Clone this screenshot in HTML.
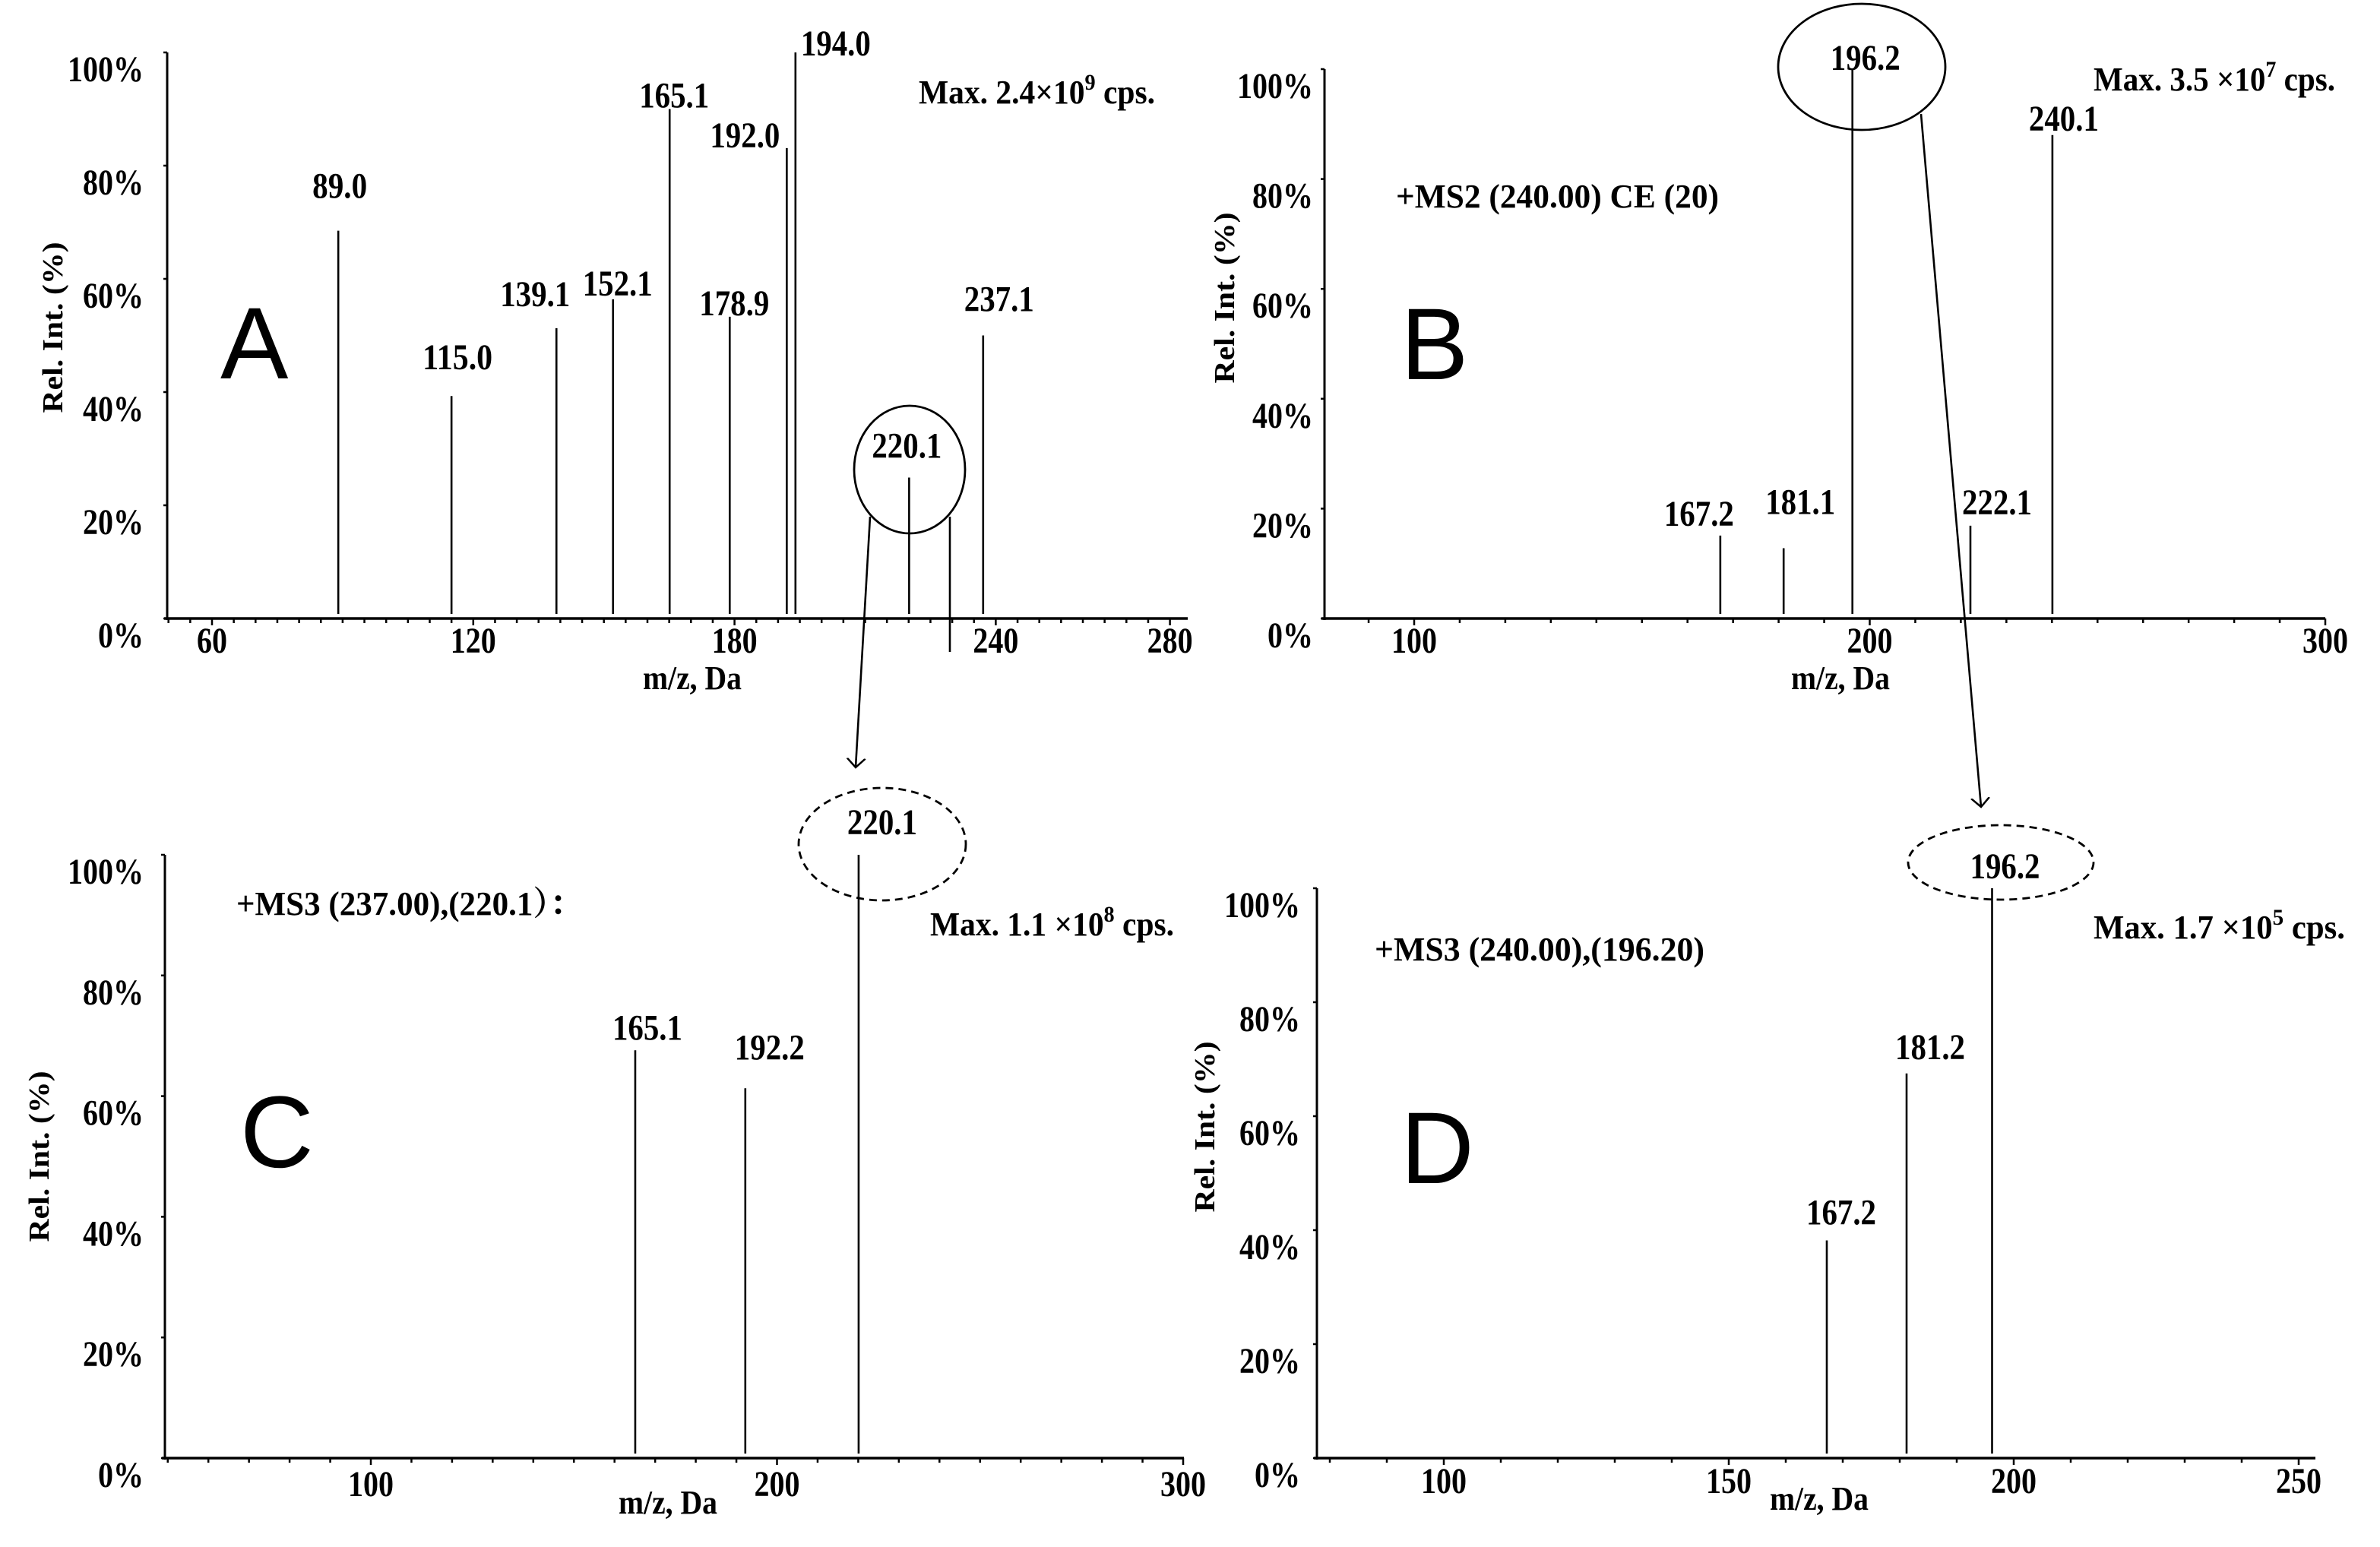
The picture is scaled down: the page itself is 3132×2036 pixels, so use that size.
<!DOCTYPE html>
<html><head><meta charset="utf-8"><style>
html,body{margin:0;padding:0;background:#fff;}
svg{display:block;}
text{font-family:"Liberation Serif","Noto Serif CJK SC",serif;font-weight:bold;fill:#000;}
.big{font-family:"Liberation Sans",sans-serif;font-weight:normal;font-size:134px;}
</style></head><body>
<svg id="fig" width="3132" height="2036" viewBox="0 0 3132 2036" xmlns="http://www.w3.org/2000/svg">
<defs><marker id="ah" markerWidth="14" markerHeight="26" refX="12" refY="13" orient="auto" markerUnits="userSpaceOnUse"><path d="M0,1 L12,13 L0,25" fill="none" stroke="#000" stroke-width="2.5"/></marker></defs>
</svg>
<script>
// ---- data ----
const yTicks=[0,20,40,60,80,100];
const aXTicks=[60,120,180,240,280];
const bXTicks=[100,200,300];
const cXTicks=[100,200,300];
const dXTicks=[100,150,200,250];
const aMz=[89.0,115.0,139.1,152.1,165.1,178.9,192.0,194.0,220.1,237.1];
const aInt=[68.5,39.3,51.3,56.4,90,53.3,83.1,100,24.9,50];
const bMz=[167.2,181.1,196.2,222.1,240.1];
const bInt=[15.1,12.8,100,16.9,88];
const cMz=[165.1,192.2,220.1];
const cInt=[67.6,61.3,100];
const dMz=[167.2,181.2,196.2];
const dInt=[38.2,67.5,100];

const NS='http://www.w3.org/2000/svg';
const svg=document.getElementById('fig');
function mk(tag,attrs,parent){const e=document.createElementNS(NS,tag);for(const k in attrs)e.setAttribute(k,attrs[k]);(parent||svg).appendChild(e);return e;}
function tw(s){let w=0;for(const c of String(s)){w+=c==='.'?10:(c==='%'?40:20);}return w;}

const panels=[
 {id:'a',mz:aMz,it:aInt,xt:aXTicks,x0:60,px0:279,k:5.73,minor:5,axL:220,axR:1563,y0:814,y100:69,ylabR:189,xlabY:859,mzx:911,mzy:907,
  ldx:[2,8,-28,6,6,6,-55,53,-3,21],ldy:[-59,-51,-45,-21,-18,-18,-17,-12,-42,-48],yl:{x:69,y:431},letter:{t:'A',x:290,y:498}},
 {id:'b',mz:bMz,it:bInt,xt:bXTicks,x0:100,px0:1861,k:5.995,minor:10,axL:1743,axR:3060,y0:814,y100:91,ylabR:1728,xlabY:859,mzx:2422,mzy:907,
  ldx:[-28,22,17,35,15],ldy:[-29,-61,-15,-31,-22],yl:{x:1611,y:392},letter:{t:'B',x:1843,y:499}},
 {id:'c',mz:cMz,it:cInt,xt:cXTicks,x0:100,px0:488,k:5.345,minor:10,axL:217,axR:1558,y0:1919,y100:1125,ylabR:189,xlabY:1969,mzx:879,mzy:1992,
  ldx:[16,32,31],ldy:[-30,-54,-43],yl:{x:51,y:1522},letter:{t:'C',x:316,y:1536}},
 {id:'d',mz:dMz,it:dInt,xt:dXTicks,x0:100,px0:1900,k:7.5,minor:10,axL:1733,axR:3047,y0:1919,y100:1169,ylabR:1711,xlabY:1965,mzx:2394,mzy:1987,
  ldx:[19,31,17],ldy:[-37,-35,-29],yl:{x:1585,y:1483},letter:{t:'D',x:1843,y:1557}}
];

panels.forEach(p=>{
 const g=mk('g',{});
 
 
 const X=m=>p.px0+(m-p.x0)*p.k;
 const Y=v=>p.y0-(v/100)*(p.y0-p.y100);
 const ya=mk('line',{x1:p.axL,y1:p.y100,x2:p.axL,y2:p.y0+2,stroke:'#000','stroke-width':3},g);
 
 
 const xa=mk('line',{x1:p.axL-4,y1:p.y0,x2:p.axR,y2:p.y0,stroke:'#000','stroke-width':3.5},g);
 
 
 const mStart=Math.ceil(((p.axL-p.px0)/p.k+p.x0)/p.minor)*p.minor;
 for(let m=mStart;X(m)<=p.axR+1;m+=p.minor){
   const major=p.xt.indexOf(m)>=0;
   mk('line',{x1:X(m),y1:p.y0,x2:X(m),y2:p.y0+(major?9:6),stroke:'#000','stroke-width':2.5},g);
 }
 yTicks.forEach(v=>{
   mk('line',{x1:p.axL-5,y1:Y(v),x2:p.axL,y2:Y(v),stroke:'#000','stroke-width':2.5},g);
   const s=v+'%';
   const t=mk('text',{x:p.ylabR,y:Y(v)+38,'text-anchor':'end','font-size':48,textLength:tw(s),lengthAdjust:'spacingAndGlyphs'},g);
   t.textContent=s;
   
   
 });
 p.xt.forEach(v=>{
   const t=mk('text',{x:X(v),y:p.xlabY,'text-anchor':'middle','font-size':48,textLength:tw(v),lengthAdjust:'spacingAndGlyphs'},g);
   t.textContent=v;
   
   
 });
 const mz=mk('text',{x:p.mzx,y:p.mzy,'text-anchor':'middle','font-size':44,textLength:130,lengthAdjust:'spacingAndGlyphs'},g);
 mz.textContent='m/z, Da';
 
 
 const yl=mk('text',{x:0,y:0,'text-anchor':'middle','font-size':38,transform:`translate(${p.yl.x+13},${p.yl.y}) rotate(-90)`,textLength:225,lengthAdjust:'spacingAndGlyphs'},g);
 yl.textContent='Rel. Int. (%)';
 
 
 const L=mk('text',{x:p.letter.x,y:p.letter.y,class:'big'},g);
 L.textContent=p.letter.t;
 
 
 p.mz.forEach((m,i)=>{
   const x=X(m), top=Y(p.it[i]);
   const ln=mk('line',{x1:x,y1:top,x2:x,y2:p.y0-6,stroke:'#000','stroke-width':2.6},g);
   
   
   const s=m.toFixed(1);
   const t=mk('text',{x:x+p.ldx[i],y:top+p.ldy[i]+16,'text-anchor':'middle','font-size':48,textLength:tw(s)+2,lengthAdjust:'spacingAndGlyphs'},g);
   t.textContent=s;
   
   
 });
});

function txt(s,x,y,name,len){const t=mk('text',{x:x,y:y,'font-size':44});t.innerHTML=s;if(len){t.setAttribute('textLength',len);t.setAttribute('lengthAdjust','spacingAndGlyphs');}
 
 return t;}
txt('Max. 2.4×10<tspan dy="-18" font-size="30">9</tspan><tspan dy="18"> cps.</tspan>',1209,136,'max-intensity-a',311);
txt('Max. 3.5 ×10<tspan dy="-18" font-size="30">7</tspan><tspan dy="18"> cps.</tspan>',2755,119,'max-intensity-b',318);
txt('+MS2  (240.00) CE  (20)',1837,273,'scan-info-b',425);
txt('+MS3  (237.00),(220.1）：',311,1204,'scan-info-c',455);
txt('Max. 1.1 ×10<tspan dy="-18" font-size="30">8</tspan><tspan dy="18"> cps.</tspan>',1224,1231,'max-intensity-c',321);
txt('+MS3  (240.00),(196.20)',1809,1264,'scan-info-d',434);
txt('Max. 1.7 ×10<tspan dy="-18" font-size="30">5</tspan><tspan dy="18"> cps.</tspan>',2755,1235,'max-intensity-d',331);

const e1=mk('ellipse',{cx:1197,cy:618,rx:73,ry:84,fill:'none',stroke:'#000','stroke-width':2.8});


const e2=mk('ellipse',{cx:2450,cy:88,rx:110,ry:83,fill:'none',stroke:'#000','stroke-width':2.8});


const e3=mk('ellipse',{cx:1161,cy:1111,rx:110,ry:74,fill:'none',stroke:'#000','stroke-width':2.8,'stroke-dasharray':'10 7'});


const e4=mk('ellipse',{cx:2633,cy:1135,rx:122,ry:49,fill:'none',stroke:'#000','stroke-width':2.8,'stroke-dasharray':'10 7'});


const s1=mk('line',{x1:1250,y1:680,x2:1250,y2:858,stroke:'#000','stroke-width':2.6});


const a1=mk('line',{x1:1145,y1:680,x2:1126,y2:1010,stroke:'#000','stroke-width':2.6,'marker-end':'url(#ah)'});


const a2=mk('line',{x1:2528,y1:150,x2:2607,y2:1062,stroke:'#000','stroke-width':2.6,'marker-end':'url(#ah)'});


</script>
</body></html>
